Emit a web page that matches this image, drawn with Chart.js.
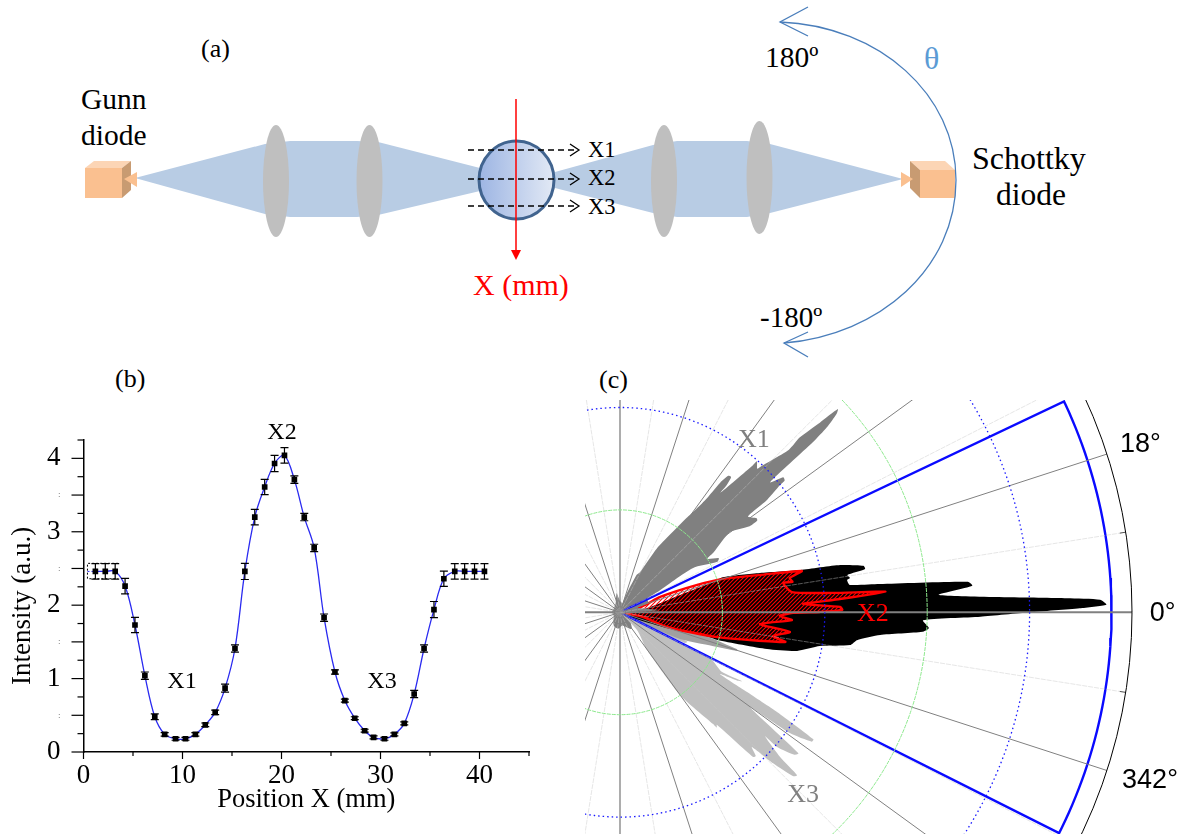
<!DOCTYPE html>
<html>
<head>
<meta charset="utf-8">
<title>Gunn diode / Schottky diode scan</title>
<script src="https://cdn.jsdelivr.net/npm/chart.js@4/dist/chart.umd.min.js"></script>
<style>
  html, body { margin: 0; padding: 0; background: #fff; }
  #page { position: relative; width: 1187px; height: 834px; overflow: hidden; }
  #page canvas, #page svg { position: absolute; display: block; }
  svg text { font-family: "Liberation Serif", serif; fill: #000; }
</style>
</head>
<body>
<div id="page">
  <svg width="1187" height="834" style="left:0;top:0">
    <defs>
      <linearGradient id="ball"><stop offset="0" stop-color="#9db5e3"/><stop offset="1" stop-color="#e2e9f5"/></linearGradient>
    </defs>
    <polygon fill="#b8cce4" points="135,178 265,144 290,141 357,141 378,142 480,168 480,191 378,215 357,217 290,217 265,214"/>
    <polygon fill="#b8cce4" points="555,172 653,145 677,141 747,141 770,144 903,179 770,213 747,217 677,217 653,213 555,188"/>
    <ellipse cx="276" cy="181" rx="13" ry="56" fill="#bfbfbf"/>
    <ellipse cx="369.500" cy="181" rx="13" ry="56" fill="#bfbfbf"/>
    <ellipse cx="664" cy="181" rx="13" ry="56" fill="#bfbfbf"/>
    <ellipse cx="759.500" cy="177.500" rx="13" ry="56.500" fill="#bfbfbf"/>
    <ellipse cx="516.500" cy="180" rx="37.500" ry="39" fill="url(#ball)" stroke="#41648f" stroke-width="3"/>

    <polygon fill="#fac090" points="85,168 122,168 122,198 85,198"/>
    <polygon fill="#fcd5b5" points="85,168 94,161 131,161 122,168"/>
    <polygon fill="#c89b72" points="122,168 131,161 131,190 122,198"/>
    <polygon fill="#fac090" points="124,179 137,172 137,187"/>
    <polygon fill="#fac090" points="920,170 955,170 955,198 920,198"/>
    <polygon fill="#fcd5b5" points="910,161 945,161 955,170 920,170"/>
    <polygon fill="#c89b72" points="910,161 920,170 920,198 910,188"/>
    <polygon fill="#fac090" points="901,172 913,179 901,187"/>

    <g stroke="#000" stroke-width="1.300" fill="none">
      <path d="M468,150H577" stroke-dasharray="6 4"/><path d="M570,144L579,150L570,156"/>
      <path d="M468,179H577" stroke-dasharray="6 4"/><path d="M570,173L579,179L570,185"/>
      <path d="M468,206H577" stroke-dasharray="6 4"/><path d="M570,200L579,206L570,212"/>
    </g>
    <path d="M516,99V252" stroke="#f00" stroke-width="1.500"/>
    <polygon fill="#f00" points="511,250 521,250 516,260"/>

    <g stroke="#4a7ebb" stroke-width="1.300" fill="none">
      <path d="M780,22C880,26 956,95 956,180C956,268 880,335 784,343"/>
      <path d="M808,7L780,22L808,36"/>
      <path d="M808,332L784,343L808,357"/>
    </g>

    <text x="201" y="57" font-size="26">(a)</text>
    <text x="115" y="387" font-size="26">(b)</text>
    <text x="599" y="388" font-size="26">(c)</text>
    <text x="81" y="109" font-size="29.500">Gunn</text>
    <text x="81" y="145" font-size="29.500">diode</text>
    <text x="972" y="169" font-size="32">Schottky</text>
    <text x="996" y="205" font-size="31.500">diode</text>
    <text x="765" y="67" font-size="29.500">180º</text>
    <text x="760" y="327" font-size="29">-180º</text>
    <text x="924" y="69" font-size="32" style="fill:#5b9bd5">θ</text>
    <text x="588" y="157" font-size="22.500">X1</text>
    <text x="588" y="185" font-size="22.500">X2</text>
    <text x="588" y="214" font-size="22.500">X3</text>
    <text x="473" y="295" font-size="30" style="fill:#f00">X (mm)</text>
  </svg>
  <canvas id="IntensityChart" width="560" height="434" style="left:0;top:400px"></canvas>
  <canvas id="PolarChart" width="602" height="434" style="left:585px;top:400px"></canvas>
</div>
<script>
    // (b) intensity profile
    var positions = [1.2, 2.2, 3.2, 4.2, 5.2, 6.2, 7.2, 8.2, 9.3, 10.3, 11.3, 12.3, 13.3, 14.3, 15.3, 16.3, 17.3, 18.3, 19.3, 20.3,
        21.3, 22.3, 23.3, 24.3, 25.4, 26.4, 27.4, 28.4, 29.3, 30.4, 31.4, 32.4, 33.4, 34.4, 35.4, 36.4, 37.5, 38.5, 39.5, 40.5];
    var intensity = [2.46, 2.46, 2.46, 2.26, 1.73, 1.04, 0.48, 0.24, 0.18, 0.18, 0.24, 0.37, 0.54, 0.87, 1.41, 2.46, 3.20, 3.61, 3.93, 4.04,
        3.71, 3.20, 2.78, 1.83, 1.09, 0.70, 0.46, 0.29, 0.20, 0.18, 0.24, 0.39, 0.79, 1.41, 1.94, 2.36, 2.46, 2.46, 2.46, 2.46];
    var errors = [0.105, 0.105, 0.105, 0.105, 0.105, 0.05, 0.04, 0.025, 0.02, 0.02, 0.025, 0.025, 0.03, 0.055, 0.05, 0.11, 0.105, 0.105, 0.11, 0.105,
        0.05, 0.05, 0.05, 0.05, 0.03, 0.02, 0.02, 0.02, 0.02, 0.02, 0.02, 0.02, 0.05, 0.05, 0.11, 0.105, 0.105, 0.105, 0.105, 0.105];
    var boxX = [3.5, 0.4, 0.4, 3.5];
    var boxY = [2.57, 2.57, 2.36, 2.36];
    var leadX = [0.4, 1.2];
    var leadY = [2.46, 2.46];
    var profileNotes = [['X1', 9.95, 0.96], ['X2', 20.05, 4.35], ['X3', 30.15, 0.96]];

    // (c) polar lobes, [angle in degrees, radius]
    var lobeX1 = [[0, 0], [72, 1.5], [66, 4.0], [63.4, 4.4], [60, 7.2], [54.8, 11.3], [54.3, 11.7], [52.8, 13.7], [52.3, 16], [51.6, 17], [50.6, 17.1], [50, 16.2], [50, 15.2],
        [47.9, 19.4], [47.8, 19.9], [46.3, 19.4], [46, 19.8], [43.9, 22.9], [44.2, 24.5], [43.5, 26.9], [43, 29.1], [42.5, 28.7], [41.8, 27.1], [41.4, 25.1], [40.9, 19.4], [39.6, 20.7], [38.7, 20.6], [38.5, 20], [37.4, 18.1], [36.8, 15.6],
        [34.5, 16.2], [33.7, 16.1], [33.6, 15.2], [36.1, 13.3], [32.5, 10.8], [31.5, 10], [28.7, 11], [27.4, 10.7], [31.3, 8.3], [28.4, 4.1], [26.5, 3], [18.4, 2.9], [14, 1.8], [3.4, 3.8], [1.5, 2], [0, 0]];
    var lobeX2 = [[0, 0], [9, 2.7], [16.1, 6.1], [18, 9.6], [18.9, 10.6], [15.7, 14.2], [13.2, 18.1], [12.1, 22], [10.8, 24.2], [10, 24.3], [9.3, 22.5], [8.5, 22.7], [8.1, 22.4], [6.8, 22.6],
        [6.2, 25.5], [5, 34.1], [4.3, 34.5], [3.1, 31.2], [1.8, 43.7], [1.5, 46.9], [0.9, 47.5], [0.5, 44.9], [0, 40], [-0.7, 35.2], [-1.5, 29.6], [-2.9, 30.2], [-3.7, 29.6], [-5, 25.5],
        [-6.7, 23.3], [-8.1, 22.7], [-9.6, 19.8], [-12.3, 17.7], [-14, 14.8], [-15.8, 9.9], [-15, 7.8], [-18.9, 4.4], [-25, 1.1], [0, 0]];
    var lobeX2Scan = [[0, 0], [15.3, 2.3], [20.9, 4.2], [19.5, 8], [17.9, 10.6], [14.9, 14.2], [12.8, 18.2], [11.4, 16.9], [10, 17.1], [10.2, 16.2], [6.7, 16.9], [5.2, 20.9], [4.4, 26],
        [3.3, 20.8], [2.6, 17.9], [1.4, 21.5], [0.6, 21.7], [0.1, 19.5], [-0.2, 16.9], [-1.3, 15.6], [-2.6, 16.8], [-4.8, 13.7], [-6.6, 16.7], [-8.8, 15.1], [-10.2, 16.4],
        [-14.3, 9.8], [-17.4, 4.8], [-11.5, 2.3], [0, 0]];
    var lobeX3 = [[0, 0], [-22.5, 5.3], [-23.6, 7.2], [-25.3, 7], [-26.2, 4.4], [-26.9, 9.9], [-30.3, 11.5], [-29.4, 13.7], [-30.2, 13.3], [-31.7, 11.5], [-32.1, 14.6], [-32.4, 18.2], [-33.3, 22.6], [-34, 22.6],
        [-35.4, 20.4], [-36.1, 15.7], [-38.3, 22.2], [-39.2, 22], [-40.6, 20.2], [-40.5, 18.6], [-42.1, 21.1], [-42.6, 23.5], [-43.4, 23.3], [-44.6, 21], [-45.6, 18.4],
        [-46.6, 19.3], [-47.4, 19.2], [-49.3, 14.5], [-50, 14.7], [-50.2, 14.2], [-54, 10], [-54.4, 4.5], [-46, 2.4], [0, 0]];
    var lobeX3Edge = [[0, 0], [-15, 8], [-17.5, 12], [-18.2, 12], [-20, 9.6], [-24, 6.4], [-27, 2], [0, 0]];
    var centreLobes = [[0, 0.7], [40, 0.8], [90, 1.1], [100, 1.9], [115, 1], [150, 0.7], [180, 0.8], [210, 0.7], [240, 1.3], [249, 1.5], [265, 1.6], [280, 1.3], [305, 2], [320, 1.3], [345, 0.8], [360, 0.7]];
    var windowAngles = [25.4, -26.7];
    var windowRadius = 48;
    var ringRadii = [10, 20, 30, 40];
    var outerRadius = 50;
    var angleLabels = [['18°', 17.9, 53.4], ['0°', -0.1, 53], ['342°', -17.6, 54.3]];
    var lobeNotes = [['X1', 52.1, 21.3, '#808080'], ['X3', -45, 25.3, '#808080'], ['X2', -0.4, 24.7, '#ff0000']];

    function toPoints(list) {
        return list.map(function (p) {
            var a = p[0] * Math.PI / 180;
            return { x: p[1] * Math.cos(a), y: p[1] * Math.sin(a) };
        });
    }

    function windowSector() {
        var list = [[windowAngles[0], 0], [windowAngles[0], windowRadius]];
        for (var a = Math.ceil(windowAngles[0]) - 1; a > windowAngles[1]; a--) {
            list.push([a, windowRadius]);
        }
        list.push([windowAngles[1], windowRadius], [windowAngles[1], 0]);
        return toPoints(list);
    }

    function hatch() {
        var tile = document.createElement('canvas');
        tile.width = 4;
        tile.height = 4;
        var c = tile.getContext('2d');
        c.strokeStyle = '#ff0000';
        c.lineWidth = 1.1;
        c.beginPath();
        c.moveTo(-1, 1); c.lineTo(1, -1);
        c.moveTo(-1, 5); c.lineTo(5, -1);
        c.moveTo(3, 5); c.lineTo(5, 3);
        c.stroke();
        return c.createPattern(tile, 'repeat');
    }

    var serif = 'Liberation Serif';

    var profileMarks = {
        id: 'profileMarks',
        afterDatasetsDraw: function (chart) {
            var c = chart.ctx, sx = chart.scales.x, sy = chart.scales.y;
            c.save();
            c.strokeStyle = '#000';
            c.lineWidth = 1.2;
            positions.forEach(function (x, i) {
                var px = sx.getPixelForValue(x);
                var top = sy.getPixelForValue(intensity[i] + errors[i]);
                var bot = sy.getPixelForValue(intensity[i] - errors[i]);
                c.beginPath();
                c.moveTo(px, top); c.lineTo(px, bot);
                c.moveTo(px - 4, top); c.lineTo(px + 4, top);
                c.moveTo(px - 4, bot); c.lineTo(px + 4, bot);
                c.stroke();
            });
            // axis ticks
            sy.ticks.forEach(function (t) {
                var py = sy.getPixelForValue(t.value);
                var len = t.value * 2 % 1 === 0 ? 12 : 6;
                c.beginPath(); c.moveTo(sx.left - len, py); c.lineTo(sx.left, py); c.stroke();
            });
            sx.ticks.forEach(function (t) {
                var px = sx.getPixelForValue(t.value);
                var len = t.value % 10 === 0 ? 7 : 4;
                c.beginPath(); c.moveTo(px, sy.bottom); c.lineTo(px, sy.bottom + len); c.stroke();
            });
            c.fillStyle = '#000';
            c.font = '24px "' + serif + '"';
            c.textAlign = 'center';
            c.textBaseline = 'middle';
            profileNotes.forEach(function (n) {
                c.fillText(n[0], sx.getPixelForValue(n[1]), sy.getPixelForValue(n[2]));
            });
            // y title sits below the middle of the axis in the original
            c.translate(23, sy.getPixelForValue(1.99));
            c.rotate(-Math.PI / 2);
            c.font = '27px "' + serif + '"';
            c.fillText('Intensity (a.u.)', 0, 0);
            c.restore();
        }
    };

    var IntensityChart = new Chart(document.getElementById('IntensityChart'), {
        type: 'scatter',
        data: {
            datasets: [{
                label: 'X',
                data: positions.map(function (x, i) { return { x: x, y: intensity[i] }; }),
                showLine: false,
                pointStyle: 'rect',
                pointRadius: 4,
                pointHoverRadius: 4,
                pointBackgroundColor: '#000',
                pointBorderWidth: 0
            }, {
                label: 'fit',
                data: positions.map(function (x, i) { return { x: x, y: intensity[i] }; }),
                showLine: true,
                tension: 0.35,
                borderColor: '#2a2af0',
                borderWidth: 1.3,
                pointRadius: 0
            }, {
                label: 'box',
                data: boxX.map(function (x, i) { return { x: x, y: boxY[i] }; }),
                showLine: true,
                borderColor: '#000',
                borderWidth: 1,
                borderDash: [2, 2],
                pointRadius: 0
            }, {
                label: 'lead',
                data: leadX.map(function (x, i) { return { x: x, y: leadY[i] }; }),
                showLine: true,
                borderColor: '#2a2af0',
                borderWidth: 1,
                borderDash: [2, 2],
                pointRadius: 0
            }]
        },
        options: {
            responsive: false,
            animation: false,
            layout: { padding: { left: 0, top: 40, right: 31, bottom: 18 } },
            plugins: { legend: { display: false }, tooltip: { enabled: false } },
            scales: {
                x: {
                    min: 0,
                    max: 45,
                    afterFit: function (s) { s.height = 64; },
                    border: { color: '#000', width: 1.5 },
                    grid: { display: false },
                    title: { display: true, text: 'Position X (mm)', font: { family: serif, size: 26.5 }, color: '#000', padding: { top: 0, bottom: 0 } },
                    ticks: {
                        stepSize: 5,
                        autoSkip: false,
                        maxRotation: 0,
                        padding: 0,
                        color: '#000',
                        font: { family: serif, size: 27 },
                        callback: function (v) { return v % 10 === 0 ? String(v) : ''; }
                    }
                },
                y: {
                    min: 0,
                    max: 4.25,
                    afterFit: function (s) { s.width = 83.5; },
                    border: { color: '#000', width: 1.5 },
                    grid: { display: false },
                    ticks: {
                        stepSize: 0.25,
                        autoSkip: false,
                        padding: 15,
                        color: function (ctx) { return ctx.tick && ctx.tick.value % 1 === 0 ? '#000' : '#555'; },
                        font: function (ctx) {
                            return { family: serif, size: ctx.tick && ctx.tick.value % 1 === 0 ? 27 : 9 };
                        },
                        callback: function (v) { return v % 1 === 0 ? String(v) : (v * 2 % 1 === 0 ? ':' : ''); }
                    }
                }
            }
        },
        plugins: [profileMarks]
    });

    var polarGrid = {
        id: 'polarGrid',
        afterDatasetsDraw: function (chart) {
            var c = chart.ctx, sx = chart.scales.x, sy = chart.scales.y;
            var cx = sx.getPixelForValue(0), cy = sy.getPixelForValue(0);
            var unit = sx.getPixelForValue(1) - cx;
            var R = outerRadius * unit;
            c.save();
            for (var a = 0; a < 360; a += 9) {
                var t = a * Math.PI / 180, cos = Math.cos(t), sin = -Math.sin(t);
                c.beginPath();
                c.moveTo(cx, cy);
                if (a % 18 === 0) {
                    c.lineTo(cx + R * cos, cy + R * sin);
                    c.strokeStyle = '#808080';
                    c.lineWidth = a % 90 === 0 ? (a % 180 === 0 ? 2 : 1.3) : 1;
                    c.setLineDash([]);
                    c.stroke();
                } else {
                    c.lineTo(cx + R * cos, cy + R * sin);
                    c.strokeStyle = 'rgba(200,200,200,0.45)';
                    c.lineWidth = 1;
                    c.setLineDash([5, 1]);
                    c.stroke();
                    c.beginPath();
                    c.moveTo(cx + (R - 6) * cos, cy + (R - 6) * sin);
                    c.lineTo(cx + R * cos, cy + R * sin);
                    c.strokeStyle = '#555';
                    c.setLineDash([]);
                    c.stroke();
                }
            }
            ringRadii.forEach(function (r) {
                c.beginPath();
                c.arc(cx, cy, r * unit, 0, Math.PI * 2);
                if (r % 20 === 0) {
                    c.strokeStyle = '#1a1aff';
                    c.lineWidth = 1.3;
                    c.setLineDash([1.5, 3]);
                } else {
                    c.strokeStyle = '#8de88d';
                    c.lineWidth = 1;
                    c.setLineDash([4, 1]);
                }
                c.stroke();
            });
            c.setLineDash([]);
            c.beginPath();
            c.arc(cx, cy, R, 0, Math.PI * 2);
            c.strokeStyle = '#000';
            c.lineWidth = 1;
            c.stroke();

            c.textAlign = 'center';
            c.textBaseline = 'middle';
            c.fillStyle = '#000';
            c.font = '27px "Liberation Sans"';
            angleLabels.forEach(function (l) {
                var t = l[1] * Math.PI / 180;
                c.fillText(l[0], sx.getPixelForValue(l[2] * Math.cos(t)), sy.getPixelForValue(l[2] * Math.sin(t)));
            });
            c.font = '26px "' + serif + '"';
            lobeNotes.forEach(function (l) {
                var t = l[1] * Math.PI / 180;
                c.fillStyle = l[3];
                c.fillText(l[0], sx.getPixelForValue(l[2] * Math.cos(t)), sy.getPixelForValue(l[2] * Math.sin(t)));
            });
            c.restore();
        }
    };

    function lobe(label, list, fillColor, lineColor, lineWidth) {
        return {
            label: label,
            data: toPoints(list),
            showLine: true,
            fill: 'shape',
            tension: 0.2,
            backgroundColor: fillColor,
            borderColor: lineColor || fillColor,
            borderWidth: lineWidth === undefined ? 0 : lineWidth,
            pointRadius: 0
        };
    }

    // datasets paint last to first
    var PolarChart = new Chart(document.getElementById('PolarChart'), {
        type: 'scatter',
        data: {
            datasets: [
                { label: 'window', data: windowSector(), showLine: true, borderColor: '#0a0aff', borderWidth: 2.4, pointRadius: 0 },
                lobe('X1', lobeX1, '#808080'),
                lobe('X2 scan', lobeX2Scan, hatch(), '#ff0000', 2.4),
                lobe('X2', lobeX2, '#000000'),
                lobe('X3 edge', lobeX3Edge, '#a0a0a0'),
                lobe('X3', lobeX3, '#bfbfbf'),
                lobe('centre', centreLobes, '#808080')
            ]
        },
        options: {
            responsive: false,
            animation: false,
            layout: { padding: 0 },
            plugins: { legend: { display: false }, tooltip: { enabled: false } },
            scales: {
                x: { display: false, min: -3.418, max: 55.37 },
                y: { display: false, min: -21.65, max: 20.73 }
            }
        },
        plugins: [polarGrid]
    });
</script>
</body>
</html>
